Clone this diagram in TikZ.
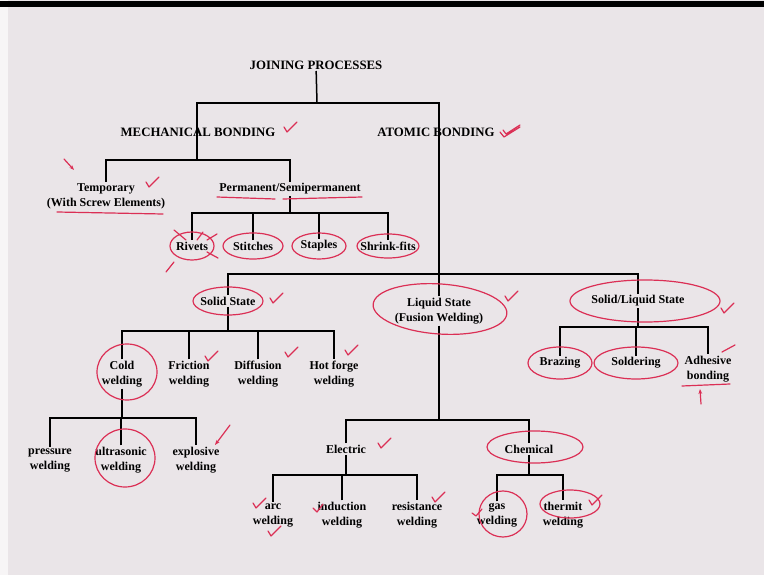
\documentclass[tikz,border=0pt]{standalone}
\usepackage{fontspec}
\setmainfont{Liberation Serif}
\usetikzlibrary{arrows.meta}
\definecolor{slide}{HTML}{EAE5E8}
\definecolor{annot}{HTML}{DB2F55}
\tikzset{
  lab/.style={font=\bfseries\fontsize{12}{15}\selectfont,align=center,inner sep=1.5pt},
  caplab/.style={lab,font=\bfseries\fontsize{12.8}{15}\selectfont},
  tree/.style={line width=1.5pt},
  redmark/.style={draw=annot,line width=1.2pt,line cap=round,line join=round}
}
\newcommand{\redtick}[2]{\draw[redmark] (#1,#2) -- ++(3,5) -- ++(10,-10);}

\begin{document}
\begin{tikzpicture}[x=1pt,y=-1pt]
\useasboundingbox (0,0) rectangle (764,575);
\fill[slide] (0,0) rectangle (764,575);
\fill[white!60!slide] (0,0) rectangle (8,575);
\fill[black] (0,1) rectangle (764,7);

\node[caplab] (jp) at (316,65) {JOINING PROCESSES};
\node[caplab] (mb) at (198,132) {MECHANICAL BONDING};
\node[caplab] (ab) at (436,132) {ATOMIC BONDING};
\node[lab] (tmp) at (106,196) {Temporary\\(With Screw Elements)};
\node[lab] (pm) at (290,189) {Permanent/Semipermanent};
\foreach \x/\n/\t in {192/rv/Rivets,253/st/Stitches,319/sp/Staples,388/sf/Shrink-fits}
  {\node[lab] (\n) at (\x,246) {\t};}
\node[lab] (ss) at (228,301) {Solid State};
\node[lab] (ls) at (439,311) {Liquid State\\(Fusion Welding)};
\node[lab] (sl) at (638,301) {Solid/Liquid State};
\foreach \x/\n/\t in {122/cw/Cold,189/fw/Friction,258/dw/Diffusion,334/hw/Hot forge}
  {\node[lab] (\n) at (\x,374) {\t\\welding};}
\foreach \x/\n/\t in {50/pw/pressure,121/uw/ultrasonic,196/ew/explosive}
  {\node[lab] (\n) at (\x,460) {\t\\welding};}
\node[lab] (bz) at (560,363) {Brazing};
\node[lab] (sd) at (636,363) {Soldering};
\node[lab] (ad) at (708,369) {Adhesive\\bonding};
\node[lab] (el) at (346,449) {Electric};
\node[lab] (ch) at (529,449) {Chemical};
\foreach \x/\n/\t in {273/aw/arc,342/iw/induction,417/rw/resistance,497/gw/gas,563/tw/thermit}
  {\node[lab] (\n) at (\x,515) {\t\\welding};}

\coordinate (jpb) at (317,103);
\coordinate (mbb) at (197,160);
\coordinate (pmb) at (290,213);
\coordinate (abb) at (439,274);
\coordinate (ssb) at (228,331);
\coordinate (cwb) at (122,418);
\coordinate (lsb) at (439,420);
\coordinate (slb) at (638,327);
\coordinate (elb) at (346,475);
\coordinate (chb) at (529,475);

\draw[tree] (jp) -- (jpb);
\draw[tree] (mbb) |- (jpb) -| (abb);
\draw[tree] (tmp.north) |- (mbb) -| (pm.north);
\draw[tree] (pm.south) -- (pmb);
\draw[tree] (rv.north) |- (pmb) -| (sf.north);
\foreach \n in {st,sp} {\draw[tree] (\n.north) -- (\n.north |- pmb);}
\draw[tree] (ss.north) |- (abb) -| (sl.north);
\draw[tree] (ls.north) -- (ls.north |- abb);
\draw[tree] (ss.south) -- (ssb);
\draw[tree] (cw.north) |- (ssb) -| (hw.north);
\foreach \n in {fw,dw} {\draw[tree] (\n.north) -- (\n.north |- ssb);}
\draw[tree] (cw.south) -- (cwb);
\draw[tree] (pw.north) |- (cwb) -| (ew.north);
\draw[tree] (uw.north) -- (uw.north |- cwb);
\draw[tree] (ls.south) -- (lsb);
\draw[tree] (el.north) |- (lsb) -| (ch.north);
\draw[tree] (sl.south) -- (slb);
\draw[tree] (bz.north) |- (slb) -| (ad.north);
\draw[tree] (sd.north) -- (sd.north |- slb);
\draw[tree] (el.south) -- (elb);
\draw[tree] (aw.north) |- (elb) -| (rw.north);
\draw[tree] (iw.north) -- (iw.north |- elb);
\draw[tree] (ch.south) -- (chb);
\draw[tree] (gw.north) |- (chb) -| (tw.north);

% red pen marks
\redtick{284}{127} \redtick{146}{182} \redtick{270}{298} \redtick{505}{296}
\redtick{721}{308} \redtick{378}{443} \redtick{205}{356} \redtick{285}{352}
\redtick{345}{350} \redtick{253}{503} \redtick{268}{531} \redtick{432}{497}
\redtick{589}{500}
\draw[redmark] (500,132) -- ++(4,5) -- ++(16,-10) (503,130) -- ++(3,4) -- ++(14,-9);
\draw[redmark,-{Stealth[length=5pt]}] (64,159) -- (74,170);
\draw[redmark] (57,212) -- (163,214) (217,197) -- (275,199) (283,199) -- (362,197);
\draw[redmark] (rv) ellipse [x radius=22pt,y radius=14pt];
\draw[redmark] (174,230) -- (186,240) (203,232) -- (197,240) (174,262) -- (166,272)
  (207,252) -- (218,258) (207,240) -- (217,234);
\draw[redmark] (st) ellipse [x radius=30pt,y radius=13pt];
\draw[redmark] (sp) ellipse [x radius=27pt,y radius=13pt];
\draw[redmark] (sf) ellipse [x radius=31pt,y radius=12pt];
\draw[redmark] (ss) ellipse [x radius=35pt,y radius=14pt];
\draw[redmark,rotate around={-4:(440,309)}] (440,309) ellipse [x radius=67pt,y radius=25pt];
\draw[redmark] (645,301) ellipse [x radius=75pt,y radius=21pt];
\draw[redmark] (bz) ellipse [x radius=32pt,y radius=16pt];
\draw[redmark] (sd) ellipse [x radius=42pt,y radius=16pt];
\draw[redmark] (682,386) -- (730,384) (722,352) -- (735,345);
\draw[redmark,-{Stealth[length=5pt]}] (701,404) -- (700,389);
\draw[redmark] (127,372) ellipse [x radius=30pt,y radius=28pt];
\draw[redmark] (125,458) ellipse [x radius=30pt,y radius=29pt];
\draw[redmark,-{Stealth[length=5pt]}] (230,425) -- (215,445);
\draw[redmark] (535,447) ellipse [x radius=48pt,y radius=16pt];
\draw[redmark] (503,514) ellipse [x radius=24pt,y radius=23pt];
\draw[redmark] (570,504) ellipse [x radius=30pt,y radius=14pt];
\draw[redmark] (313,508) -- ++(4,4) -- ++(6,-8) (472,513) -- ++(4,3) -- ++(6,-7);
\end{tikzpicture}
\end{document}
